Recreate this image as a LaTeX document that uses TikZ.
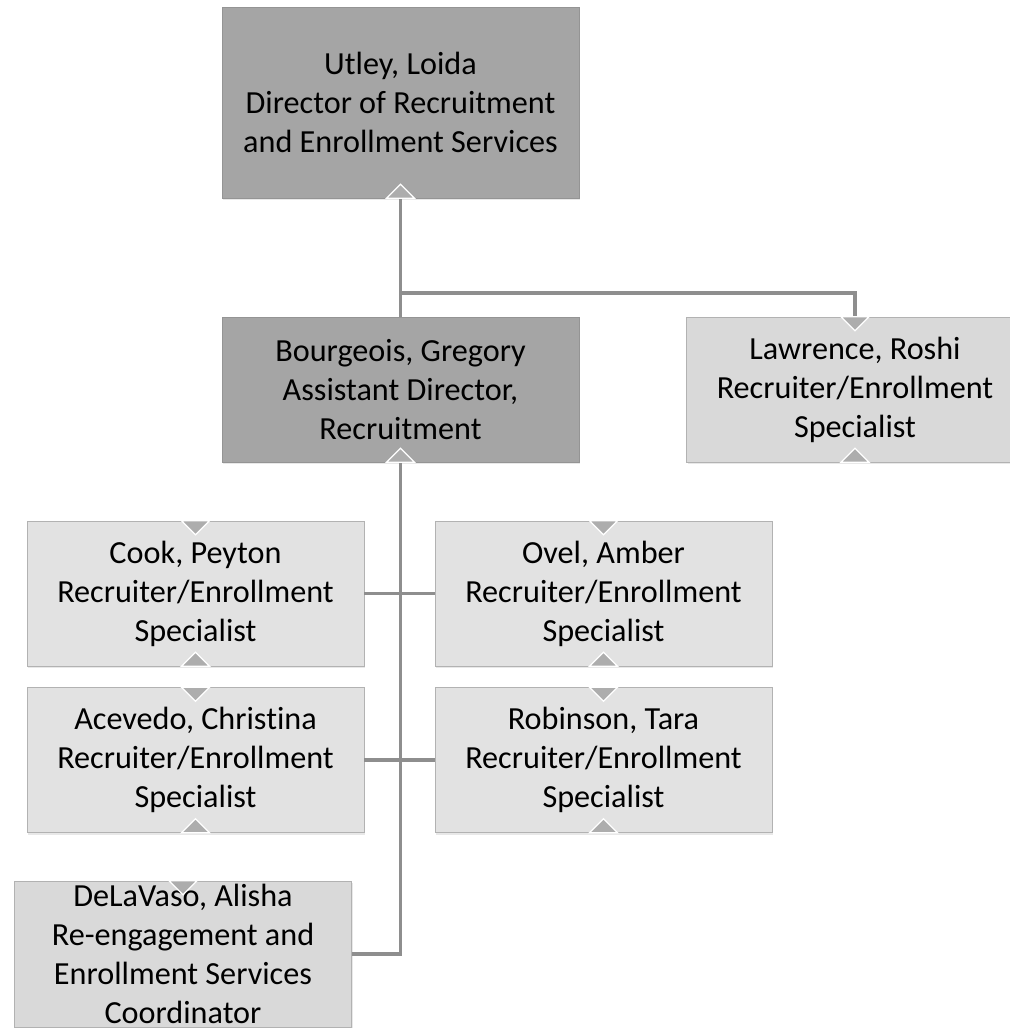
\documentclass[tikz,border=0pt]{standalone}
\usepackage{fontspec}
\setmainfont{Carlito}[Ligatures=NoCommon]
\usepackage{tikz}
\usetikzlibrary{calc}
\usetikzlibrary{shadows}

\definecolor{darkbox}{HTML}{A5A5A5}
\definecolor{lightbox}{HTML}{E2E2E2}
\definecolor{midbox}{HTML}{D9D9D9}
\definecolor{linkgray}{HTML}{8E8E8E}

\tikzset{
    person/.style={shape=rectangle, draw=black!30, inner sep=0pt, align=center,
        font=\fontsize{22.9}{27.8}\selectfont,
        drop shadow={opacity=0.18, shadow xshift=1pt, shadow yshift=-1.5pt}},
    headbox/.style={person, fill=darkbox, draw=black!42, minimum width=8.925cm},
    staffbox/.style={person, fill=lightbox, minimum width=8.425cm, minimum height=3.625cm},
    link/.style={draw=linkgray, line width=2.4pt},
    notch/.style={fill=black!32, draw=white, line width=0.9pt}}

\begin{document}
\begin{tikzpicture}[x=0.025cm, y=-0.025cm]

                    \clip (0,0) rectangle (1010,1028);
                    \fill[white] (0,0) rectangle (1010,1028);

                    \node[headbox, minimum height=4.775cm] (U) at (400.5,102.5) {Utley, Loida\\Director of Recruitment\\and Enrollment Services};
                    \node[headbox, minimum height=3.625cm] (B) at (400.5,389.5) {Bourgeois, Gregory\\Assistant Director,\\Recruitment};
                    \node[staffbox, fill=midbox] (L) at (855,389.5) {Lawrence, Roshi\\Recruiter/Enrollment\\Specialist};
                    \node[staffbox] (C) at (195.5,593.5) {Cook, Peyton\\Recruiter/Enrollment\\Specialist};
                    \node[staffbox] (O) at (603.5,593.5) {Ovel, Amber\\Recruiter/Enrollment\\Specialist};
                    \node[staffbox] (A) at (195.5,760) {Acevedo, Christina\\Recruiter/Enrollment\\Specialist};
                    \node[staffbox] (R) at (603.5,760) {Robinson, Tara\\Recruiter/Enrollment\\Specialist};
                    \node[staffbox, fill=midbox, minimum height=3.65cm] (D) at (183,954) {DeLaVaso, Alisha\\Re-engagement and\\Enrollment Services\\Coordinator};

                    \coordinate (J) at (400.5,293);

                    \draw[link] (U.south) -- (B.north);
                    \draw[link] (J) -| (L.north);
                    \draw[link] (B.south) |- (D.east);
                    \draw[link] (C.east) -- (O.west);
                    \draw[link] (A.east) -- (R.west);

                    \foreach \n in {L, C, O, A, R, D}
                        \filldraw[notch] ($(\n.north)+(-14,0)$) -- ++(14,14) -- ++(14,-14) -- cycle;
                    \foreach \n in {U, B, L, C, O, A, R}
                        \filldraw[notch] ($(\n.south)+(-14,0)$) -- ++(14,-14) -- ++(14,14) -- cycle;

                \end{tikzpicture}
\end{document}
